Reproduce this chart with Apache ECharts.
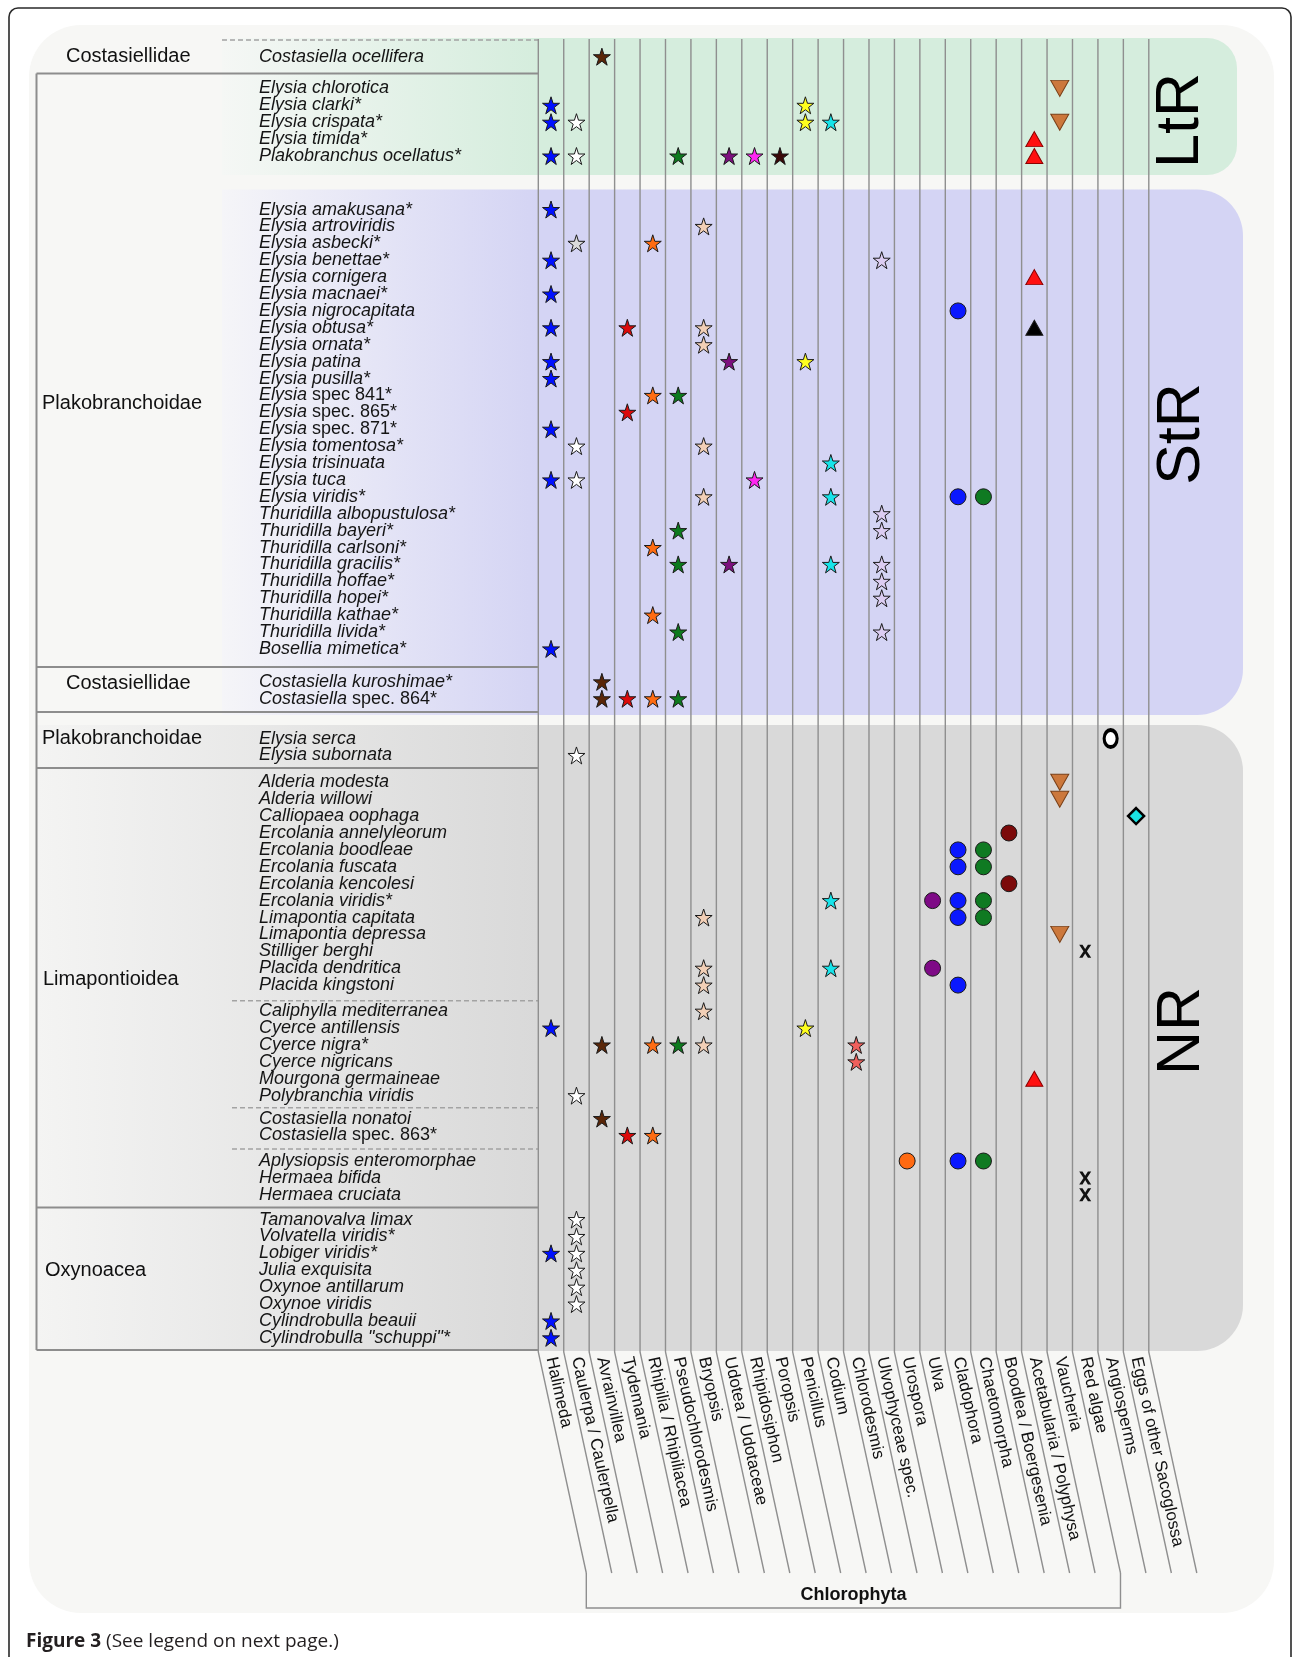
<!DOCTYPE html>
<html>
<head>
<meta charset="utf-8">
<script src="https://cdn.jsdelivr.net/npm/echarts@6/dist/echarts.min.js"></script>
<style>
html,body{margin:0;padding:0;background:#fff}
#chart{width:1295px;height:1657px}
</style>
</head>
<body>
<div id="chart"></div>
<script>
// ---------- food sources (columns) ----------
const foods = ['Halimeda', 'Caulerpa / Caulerpella', 'Avrainvillea', 'Tydemania', 'Rhipilia / Rhipiliacea',
  'Pseudochlorodesmis', 'Bryopsis', 'Udotea / Udotaceae', 'Rhipidosiphon', 'Poropsis', 'Penicillus', 'Codium',
  'Chlorodesmis', 'Ulvophyceae spec.', 'Urospora', 'Ulva', 'Cladophora', 'Chaetomorpha', 'Boodlea / Boergesenia',
  'Acetabularia / Polyphysa', 'Vaucheria', 'Red algae', 'Angiosperms', 'Eggs of other Sacoglossa'];

// ---------- species, in row blocks ----------
const ltrCostasiellidae = ['Costasiella ocellifera'];
const ltrPlakobranchoidae = ['Elysia chlorotica', 'Elysia clarki*', 'Elysia crispata*', 'Elysia timida*', 'Plakobranchus ocellatus*'];
const strPlakobranchoidae = ['Elysia amakusana*', 'Elysia artroviridis', 'Elysia asbecki*', 'Elysia benettae*', 'Elysia cornigera',
  'Elysia macnaei*', 'Elysia nigrocapitata', 'Elysia obtusa*', 'Elysia ornata*', 'Elysia patina', 'Elysia pusilla*',
  'Elysia spec 841*', 'Elysia spec. 865*', 'Elysia spec. 871*', 'Elysia tomentosa*', 'Elysia trisinuata', 'Elysia tuca',
  'Elysia viridis*', 'Thuridilla albopustulosa*', 'Thuridilla bayeri*', 'Thuridilla carlsoni*', 'Thuridilla gracilis*',
  'Thuridilla hoffae*', 'Thuridilla hopei*', 'Thuridilla kathae*', 'Thuridilla livida*', 'Bosellia mimetica*'];
const strCostasiellidae = ['Costasiella kuroshimae*', 'Costasiella spec. 864*'];
const nrPlakobranchoidae = ['Elysia serca', 'Elysia subornata'];
const nrLimapontioideaA = ['Alderia modesta', 'Alderia willowi', 'Calliopaea oophaga', 'Ercolania annelyleorum', 'Ercolania boodleae',
  'Ercolania fuscata', 'Ercolania kencolesi', 'Ercolania viridis*', 'Limapontia capitata', 'Limapontia depressa',
  'Stilliger berghi', 'Placida dendritica', 'Placida kingstoni'];
const nrLimapontioideaB = ['Caliphylla mediterranea', 'Cyerce antillensis', 'Cyerce nigra*', 'Cyerce nigricans', 'Mourgona germaineae', 'Polybranchia viridis'];
const nrLimapontioideaC = ['Costasiella nonatoi', 'Costasiella spec. 863*'];
const nrLimapontioideaD = ['Aplysiopsis enteromorphae', 'Hermaea bifida', 'Hermaea cruciata'];
const nrOxynoacea = ['Tamanovalva limax', 'Volvatella viridis*', 'Lobiger viridis*', 'Julia exquisita', 'Oxynoe antillarum',
  'Oxynoe viridis', 'Cylindrobulla beauii', 'Cylindrobulla "schuppi"*'];

// ---------- food records: [species, food] ----------
const halimedaStars = [['Elysia clarki*', 'Halimeda'], ['Elysia crispata*', 'Halimeda'], ['Plakobranchus ocellatus*', 'Halimeda'],
  ['Elysia amakusana*', 'Halimeda'], ['Elysia benettae*', 'Halimeda'], ['Elysia macnaei*', 'Halimeda'], ['Elysia obtusa*', 'Halimeda'],
  ['Elysia patina', 'Halimeda'], ['Elysia pusilla*', 'Halimeda'], ['Elysia spec. 871*', 'Halimeda'], ['Elysia tuca', 'Halimeda'],
  ['Bosellia mimetica*', 'Halimeda'], ['Cyerce antillensis', 'Halimeda'], ['Lobiger viridis*', 'Halimeda'],
  ['Cylindrobulla beauii', 'Halimeda'], ['Cylindrobulla "schuppi"*', 'Halimeda']];
const caulerpaStars = [['Elysia crispata*', 'Caulerpa / Caulerpella'], ['Plakobranchus ocellatus*', 'Caulerpa / Caulerpella'],
  ['Elysia tomentosa*', 'Caulerpa / Caulerpella'], ['Elysia tuca', 'Caulerpa / Caulerpella'], ['Elysia subornata', 'Caulerpa / Caulerpella'],
  ['Polybranchia viridis', 'Caulerpa / Caulerpella'], ['Tamanovalva limax', 'Caulerpa / Caulerpella'],
  ['Volvatella viridis*', 'Caulerpa / Caulerpella'], ['Lobiger viridis*', 'Caulerpa / Caulerpella'],
  ['Julia exquisita', 'Caulerpa / Caulerpella'], ['Oxynoe antillarum', 'Caulerpa / Caulerpella'], ['Oxynoe viridis', 'Caulerpa / Caulerpella']];
const caulerpellaStars = [['Elysia asbecki*', 'Caulerpa / Caulerpella']];
const avrainvilleaStars = [['Costasiella ocellifera', 'Avrainvillea'], ['Costasiella kuroshimae*', 'Avrainvillea'],
  ['Costasiella spec. 864*', 'Avrainvillea'], ['Cyerce nigra*', 'Avrainvillea'], ['Costasiella nonatoi', 'Avrainvillea']];
const tydemaniaStars = [['Elysia obtusa*', 'Tydemania'], ['Elysia spec. 865*', 'Tydemania'], ['Costasiella spec. 864*', 'Tydemania'],
  ['Costasiella spec. 863*', 'Tydemania']];
const rhipiliaStars = [['Elysia asbecki*', 'Rhipilia / Rhipiliacea'], ['Elysia spec 841*', 'Rhipilia / Rhipiliacea'],
  ['Thuridilla carlsoni*', 'Rhipilia / Rhipiliacea'], ['Thuridilla kathae*', 'Rhipilia / Rhipiliacea'],
  ['Costasiella spec. 864*', 'Rhipilia / Rhipiliacea'], ['Cyerce nigra*', 'Rhipilia / Rhipiliacea'],
  ['Costasiella spec. 863*', 'Rhipilia / Rhipiliacea']];
const pseudochlorodesmisStars = [['Plakobranchus ocellatus*', 'Pseudochlorodesmis'], ['Elysia spec 841*', 'Pseudochlorodesmis'],
  ['Thuridilla bayeri*', 'Pseudochlorodesmis'], ['Thuridilla gracilis*', 'Pseudochlorodesmis'], ['Thuridilla livida*', 'Pseudochlorodesmis'],
  ['Costasiella spec. 864*', 'Pseudochlorodesmis'], ['Cyerce nigra*', 'Pseudochlorodesmis']];
const bryopsisStars = [['Elysia artroviridis', 'Bryopsis'], ['Elysia obtusa*', 'Bryopsis'], ['Elysia ornata*', 'Bryopsis'],
  ['Elysia tomentosa*', 'Bryopsis'], ['Elysia viridis*', 'Bryopsis'], ['Limapontia capitata', 'Bryopsis'], ['Placida dendritica', 'Bryopsis'],
  ['Placida kingstoni', 'Bryopsis'], ['Caliphylla mediterranea', 'Bryopsis'], ['Cyerce nigra*', 'Bryopsis']];
const udoteaStars = [['Plakobranchus ocellatus*', 'Udotea / Udotaceae'], ['Elysia patina', 'Udotea / Udotaceae'],
  ['Thuridilla gracilis*', 'Udotea / Udotaceae']];
const rhipidosiphonStars = [['Plakobranchus ocellatus*', 'Rhipidosiphon'], ['Elysia tuca', 'Rhipidosiphon']];
const poropsisStars = [['Plakobranchus ocellatus*', 'Poropsis']];
const penicillusStars = [['Elysia clarki*', 'Penicillus'], ['Elysia crispata*', 'Penicillus'], ['Elysia patina', 'Penicillus'],
  ['Cyerce antillensis', 'Penicillus']];
const codiumStars = [['Elysia crispata*', 'Codium'], ['Elysia trisinuata', 'Codium'], ['Elysia viridis*', 'Codium'],
  ['Thuridilla gracilis*', 'Codium'], ['Ercolania viridis*', 'Codium'], ['Placida dendritica', 'Codium']];
const chlorodesmisStars = [['Cyerce nigra*', 'Chlorodesmis'], ['Cyerce nigricans', 'Chlorodesmis']];
const ulvophyceaeStars = [['Elysia benettae*', 'Ulvophyceae spec.'], ['Thuridilla albopustulosa*', 'Ulvophyceae spec.'],
  ['Thuridilla bayeri*', 'Ulvophyceae spec.'], ['Thuridilla gracilis*', 'Ulvophyceae spec.'], ['Thuridilla hoffae*', 'Ulvophyceae spec.'],
  ['Thuridilla hopei*', 'Ulvophyceae spec.'], ['Thuridilla livida*', 'Ulvophyceae spec.']];
const urosporaDots = [['Aplysiopsis enteromorphae', 'Urospora']];
const ulvaDots = [['Ercolania viridis*', 'Ulva'], ['Placida dendritica', 'Ulva']];
const cladophoraDots = [['Elysia nigrocapitata', 'Cladophora'], ['Elysia viridis*', 'Cladophora'], ['Ercolania boodleae', 'Cladophora'],
  ['Ercolania fuscata', 'Cladophora'], ['Ercolania viridis*', 'Cladophora'], ['Limapontia capitata', 'Cladophora'],
  ['Placida kingstoni', 'Cladophora'], ['Aplysiopsis enteromorphae', 'Cladophora']];
const chaetomorphaDots = [['Elysia viridis*', 'Chaetomorpha'], ['Ercolania boodleae', 'Chaetomorpha'], ['Ercolania fuscata', 'Chaetomorpha'],
  ['Ercolania viridis*', 'Chaetomorpha'], ['Limapontia capitata', 'Chaetomorpha'], ['Aplysiopsis enteromorphae', 'Chaetomorpha']];
const boodleaDots = [['Ercolania annelyleorum', 'Boodlea / Boergesenia'], ['Ercolania kencolesi', 'Boodlea / Boergesenia']];
const acetabulariaRed = [['Elysia timida*', 'Acetabularia / Polyphysa'], ['Plakobranchus ocellatus*', 'Acetabularia / Polyphysa'],
  ['Elysia cornigera', 'Acetabularia / Polyphysa'], ['Mourgona germaineae', 'Acetabularia / Polyphysa']];
const acetabulariaBlack = [['Elysia obtusa*', 'Acetabularia / Polyphysa']];
const vaucheriaTriangles = [['Elysia chlorotica', 'Vaucheria'], ['Elysia crispata*', 'Vaucheria'], ['Alderia modesta', 'Vaucheria'],
  ['Alderia willowi', 'Vaucheria'], ['Limapontia depressa', 'Vaucheria']];
const redAlgaeCrosses = [['Stilliger berghi', 'Red algae'], ['Hermaea bifida', 'Red algae'], ['Hermaea cruciata', 'Red algae']];
const angiospermRings = [['Elysia serca', 'Angiosperms']];
const eggDiamonds = [['Calliopaea oophaga', 'Eggs of other Sacoglossa']];

// ---------- layout ----------
const blocks = [ltrCostasiellidae, ltrPlakobranchoidae, strPlakobranchoidae, strCostasiellidae, nrPlakobranchoidae,
  nrLimapontioideaA, nrLimapontioideaB, nrLimapontioideaC, nrLimapontioideaD, nrOxynoacea];
const blockMid = [56.7, 122.2, 429.2, 690.3, 747, 883.7, 1053.4, 1127, 1177.9, 1278.7];
const ROW = 16.9;
const PLOT_L = 538.3, PLOT_R = 1148.8;
const COL_W = (PLOT_R - PLOT_L) / foods.length;
const NAME_X = 259;
const SLANT_TOP = 1352, SLANT_BOT = 1573, SLANT_DX = 48;
const SANS = '"Liberation Sans", Arial, sans-serif';

const STAR = 'path://M50,2L61.8,37.6L99,37.6L68.9,59.5L80.3,95L50,73L19.7,95L31.1,59.5L1,37.6L38.2,37.6Z';
const CROSS = 'path://M0,0H3.3L6,4.3L8.7,0H12L7.7,6.5L12,13H8.7L6,8.7L3.3,13H0L4.3,6.5Z';

const markerKinds = [
  [halimedaStars, {symbol: STAR, size: 17, color: '#0010ff'}],
  [caulerpaStars, {symbol: STAR, size: 17, color: '#ffffff'}],
  [caulerpellaStars, {symbol: STAR, size: 17, color: '#dadada'}],
  [avrainvilleaStars, {symbol: STAR, size: 17, color: '#5a2608'}],
  [tydemaniaStars, {symbol: STAR, size: 17, color: '#dc0a0a'}],
  [rhipiliaStars, {symbol: STAR, size: 17, color: '#ff6c12'}],
  [pseudochlorodesmisStars, {symbol: STAR, size: 17, color: '#0d7a1e'}],
  [bryopsisStars, {symbol: STAR, size: 17, color: '#f2cfb6'}],
  [udoteaStars, {symbol: STAR, size: 17, color: '#7c0f7e'}],
  [rhipidosiphonStars, {symbol: STAR, size: 17, color: '#ff26f2'}],
  [poropsisStars, {symbol: STAR, size: 17, color: '#3a0808'}],
  [penicillusStars, {symbol: STAR, size: 17, color: '#ffff1e'}],
  [codiumStars, {symbol: STAR, size: 17, color: '#16e4ea'}],
  [chlorodesmisStars, {symbol: STAR, size: 17, color: '#f0605c'}],
  [ulvophyceaeStars, {symbol: STAR, size: 17, color: '#dccdf2'}],
  [urosporaDots, {symbol: 'circle', size: 16, color: '#ff6a12'}],
  [ulvaDots, {symbol: 'circle', size: 16, color: '#7e0a86'}],
  [cladophoraDots, {symbol: 'circle', size: 16, color: '#0a18ff'}],
  [chaetomorphaDots, {symbol: 'circle', size: 16, color: '#0f7a22'}],
  [boodleaDots, {symbol: 'circle', size: 16, color: '#7c0a0a'}],
  [acetabulariaRed, {symbol: 'triangle', size: [17, 15], color: '#ff1010', border: '#8a0000'}],
  [acetabulariaBlack, {symbol: 'triangle', size: [17, 15], color: '#000000'}],
  [vaucheriaTriangles, {symbol: 'triangle', size: [18, 16], rotate: 180, color: '#cc783c', border: '#7a4018'}],
  [redAlgaeCrosses, {symbol: CROSS, size: [12, 13], color: '#111111', borderWidth: 0}],
  [angiospermRings, {symbol: 'circle', size: [13, 17], color: '#ffffff', border: '#000000', borderWidth: 3.5}],
  [eggDiamonds, {symbol: 'diamond', size: 16, color: '#1ae2e2', border: '#000000', borderWidth: 2.5}]
];

const blockOf = {};
blocks.forEach((b, i) => b.forEach(s => { blockOf[s] = i; }));

function speciesLabel(v) {
  const m = v.match(/^(\S+) (spec\.? .*)$/);
  return m ? '{i|' + m[1] + '} {n|' + m[2] + '}' : '{i|' + v + '}';
}

const grids = [], xAxes = [], yAxes = [];
blocks.forEach((b, i) => {
  const h = b.length * ROW;
  grids.push({left: PLOT_L, top: blockMid[i] - h / 2, width: PLOT_R - PLOT_L, height: h, outerBoundsMode: 'none'});
  const last = i === blocks.length - 1;
  xAxes.push({
    type: 'category', gridIndex: i, data: foods,
    axisLine: {show: false}, axisTick: {show: false}, splitLine: {show: false},
    axisLabel: last ? {show: true, interval: 0, rotate: -77.5, margin: 11, fontSize: 17, fontFamily: SANS, color: '#111'} : {show: false}
  });
  yAxes.push({
    type: 'category', gridIndex: i, data: b, inverse: true,
    axisLine: {show: false}, axisTick: {show: false}, splitLine: {show: false},
    axisLabel: {
      interval: 0, margin: PLOT_L - NAME_X, align: 'left', color: '#151515',
      fontSize: 18, fontFamily: SANS, formatter: speciesLabel,
      rich: {
        i: {fontStyle: 'italic', fontSize: 18, fontFamily: SANS, color: '#151515'},
        n: {fontStyle: 'normal', fontSize: 18, fontFamily: SANS, color: '#151515'}
      }
    }
  });
});

const series = [];
markerKinds.forEach(([records, st]) => {
  const byBlock = {};
  records.forEach(([sp, food]) => {
    const g = blockOf[sp];
    (byBlock[g] = byBlock[g] || []).push([food, sp]);
  });
  Object.keys(byBlock).forEach(g => {
    series.push({
      type: 'scatter', xAxisIndex: +g, yAxisIndex: +g, data: byBlock[g],
      symbol: st.symbol, symbolSize: st.size, symbolRotate: st.rotate || 0,
      itemStyle: {color: st.color, borderColor: st.border || '#1a1a1a', borderWidth: st.borderWidth != null ? st.borderWidth : 1, opacity: 1},
      silent: true, animation: false, z: 5
    });
  });
});

// ---------- background, table rules and headings ----------
const G = [];
const lineStroke = '#8d8d8d';
G.push({type: 'rect', z: -20, shape: {x: 9, y: 8, width: 1282, height: 1720, r: [9, 9, 0, 0]},
  style: {fill: 'none', stroke: '#2a2a2a', lineWidth: 1.6}});
G.push({type: 'rect', z: -19, shape: {x: 29, y: 25, width: 1245, height: 1588, r: 52}, style: {fill: '#f7f7f5'}});

function band(x, y, w, h, r, c0, c1) {
  const stop = (PLOT_L - x) / w;
  G.push({type: 'rect', z: -18, shape: {x, y, width: w, height: h, r: [0, r, r, 0]},
    style: {fill: new echarts.graphic.LinearGradient(0, 0, 1, 0, [
      {offset: 0, color: c0}, {offset: stop, color: c1}, {offset: 1, color: c1}])}});
}
band(222, 38, 1015, 137, 30, '#f5f7f5', '#d5eddd');
band(222, 189.5, 1021, 525.5, 46, '#f5f5f8', '#d4d4f4');
band(36.5, 725, 1206.5, 626, 46, '#f4f4f3', '#d9d9d9');

function hline(y, x0, dashed) {
  G.push({type: 'line', z: -10, shape: {x1: x0, y1: y, x2: PLOT_L, y2: y},
    style: {stroke: dashed ? '#a3a3a3' : lineStroke, lineWidth: dashed ? 1.6 : 2, lineDash: dashed ? [5, 3] : null}});
}
hline(40, 222, true);
[73.5, 667, 712, 768, 1207.5, 1350].forEach(y => hline(y, 36.5, false));
[1000.7, 1107.7, 1149].forEach(y => hline(y, 232, true));
G.push({type: 'line', z: -10, shape: {x1: 36.5, y1: 73.5, x2: 36.5, y2: 1350}, style: {stroke: lineStroke, lineWidth: 2}});

// column rules, bending along the slanted food labels
for (let i = 0; i <= foods.length; i++) {
  const x = PLOT_L + i * COL_W;
  G.push({type: 'polyline', z: -9, shape: {points: [[x, 39], [x, SLANT_TOP], [x + SLANT_DX, SLANT_BOT]]},
    style: {stroke: '#8f8f8f', lineWidth: 1.4, fill: null}});
}
// Chlorophyta bracket: Halimeda ... Vaucheria
const bx0 = PLOT_L + SLANT_DX, bx1 = PLOT_L + 21 * COL_W + SLANT_DX;
G.push({type: 'polyline', z: -9, shape: {points: [[bx0, SLANT_BOT], [bx0, 1608], [bx1, 1608], [bx1, SLANT_BOT]]},
  style: {stroke: '#8f8f8f', lineWidth: 1.4, fill: null}});
G.push({type: 'text', z: 10, x: (bx0 + bx1) / 2, y: 1595,
  style: {text: 'Chlorophyta', font: 'bold 18px ' + SANS, fill: '#111', align: 'center', verticalAlign: 'middle',
    textAlign: 'center', textVerticalAlign: 'middle'}});

function label(text, x, y) {
  G.push({type: 'text', z: 10, x, y,
    style: {text, font: '20px ' + SANS, fill: '#111', align: 'left', verticalAlign: 'middle',
      textAlign: 'left', textVerticalAlign: 'middle'}});
}
label('Costasiellidae', 66, 56.7);
label('Plakobranchoidae', 42, 403);
label('Costasiellidae', 66, 683);
label('Plakobranchoidae', 42, 738.5);
label('Limapontioidea', 43, 979);
label('Oxynoacea', 45, 1270);

function bandLabel(text, x, y) {
  G.push({type: 'text', z: 10, x, y, rotation: Math.PI / 2,
    style: {text, font: '61px ' + SANS, fill: '#000', align: 'center', verticalAlign: 'middle',
      textAlign: 'center', textVerticalAlign: 'middle'}});
}
bandLabel('LtR', 1181, 120.5);
bandLabel('StR', 1182, 434);
bandLabel('NR', 1182, 1031);

G.push({type: 'text', z: 10, x: 26, y: 1642,
  style: {text: '{b|Figure 3} (See legend on next page.)', font: '19px "Open Sans", sans-serif', fill: '#231f20',
    verticalAlign: 'middle', textVerticalAlign: 'middle',
    rich: {b: {fontWeight: 'bold', fontSize: 19, fontFamily: '"Open Sans", sans-serif', fill: '#231f20'}}}});

const chart = echarts.init(document.getElementById('chart'), null, {renderer: 'canvas'});
chart.setOption({
  backgroundColor: '#ffffff',
  animation: false,
  grid: grids,
  xAxis: xAxes,
  yAxis: yAxes,
  series: series,
  graphic: {elements: G}
});
</script>
</body>
</html>
